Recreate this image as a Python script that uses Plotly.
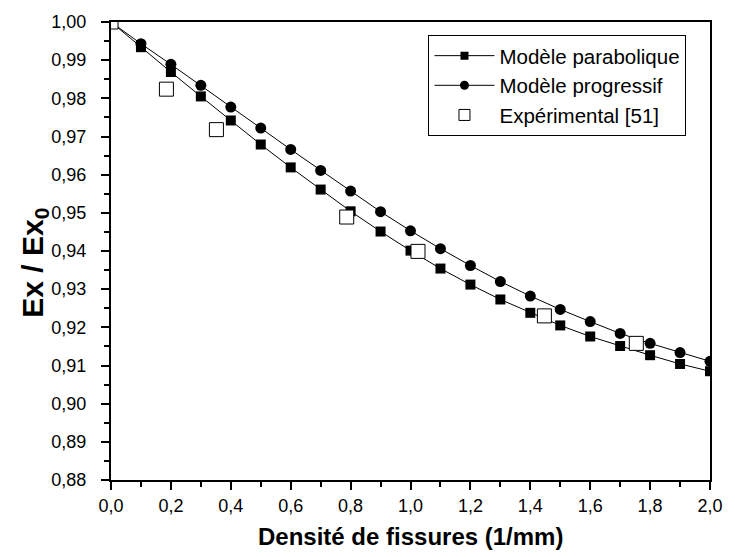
import plotly.graph_objects as go

# Crack density (1/mm)
density = [0.0, 0.1, 0.2, 0.3, 0.4, 0.5, 0.6, 0.7, 0.8, 0.9, 1.0,
           1.1, 1.2, 1.3, 1.4, 1.5, 1.6, 1.7, 1.8, 1.9, 2.0]

# Normalised longitudinal modulus Ex / Ex0
parabolic = [1.0, 0.9934, 0.9869, 0.9805, 0.9742, 0.9679, 0.9619, 0.9561, 0.9504,
             0.9451, 0.9401, 0.9354, 0.9312, 0.9273, 0.9238, 0.9205, 0.9176,
             0.9151, 0.9127, 0.9104, 0.9085]
progressive = [1.0, 0.9943, 0.9889, 0.9834, 0.9777, 0.9722, 0.9666, 0.9611, 0.9557,
               0.9503, 0.9453, 0.9406, 0.9362, 0.9320, 0.9282, 0.9247, 0.9215,
               0.9184, 0.9158, 0.9134, 0.9111]

# Experimental measurements [51]
exp_density = [0.0, 0.185, 0.352, 0.787, 1.025, 1.447, 1.754]
exp_modulus = [1.0, 0.9824, 0.9718, 0.9489, 0.9399, 0.9230, 0.9158]

names = ["Modèle parabolique", "Modèle progressif", "Expérimental [51]"]

FONT = "Liberation Sans, Arial, sans-serif"
LINE = dict(color="black", width=1)
SQUARE = dict(symbol="square", color="black")
CIRCLE = dict(symbol="circle", color="black")
OPEN_SQUARE = dict(symbol="square", color="white", line=dict(color="black", width=1))

fig = go.Figure()
fig.add_trace(go.Scatter(x=density, y=parabolic, mode="lines+markers",
                         line=LINE, marker=dict(size=10, **SQUARE), showlegend=False))
fig.add_trace(go.Scatter(x=density, y=progressive, mode="lines+markers",
                         line=LINE, marker=dict(size=11, **CIRCLE), showlegend=False))
fig.add_trace(go.Scatter(x=exp_density, y=exp_modulus, mode="markers",
                         marker=dict(size=14, **OPEN_SQUARE), showlegend=False))

# Legend entries with smaller key symbols
fig.add_trace(go.Scatter(x=[None], y=[None], mode="lines+markers", name=names[0],
                         line=LINE, marker=dict(size=8, **SQUARE)))
fig.add_trace(go.Scatter(x=[None], y=[None], mode="lines+markers", name=names[1],
                         line=LINE, marker=dict(size=9, **CIRCLE)))
fig.add_trace(go.Scatter(x=[None], y=[None], mode="markers", name=names[2],
                         marker=dict(size=11, **OPEN_SQUARE)))

axis_common = dict(
    showgrid=False, zeroline=False, showline=True, mirror=True,
    linecolor="black", linewidth=2,
    ticks="outside", ticklen=8, tickwidth=2, tickcolor="black",
    tickfont=dict(family=FONT, size=18, color="black"),
)

fig.update_xaxes(
    range=[0, 2.0], dtick=0.2, tick0=0, tickformat=".1f",
    minor=dict(ticks="outside", ticklen=5, tickwidth=2, tickcolor="black", dtick=0.1),
    ticklabelstandoff=0,
    **axis_common,
)
fig.update_yaxes(
    range=[0.88, 1.0], dtick=0.01, tick0=0.88, tickformat=".2f",
    minor=dict(ticks="outside", ticklen=5, tickwidth=2, tickcolor="black", dtick=0.005),
    ticklabelstandoff=11,
    **axis_common,
)

fig.add_annotation(
    text="<b>Densité de fissures (1/mm)</b>", xref="paper", yref="paper",
    x=0.5, y=-0.123, xanchor="center", yanchor="middle", showarrow=False,
    font=dict(family=FONT, size=24, color="black"),
)
fig.add_annotation(
    text="<b>Ex / Ex<sub>0</sub></b>", xref="paper", yref="paper",
    x=-0.128, y=0.475, xanchor="center", yanchor="middle", showarrow=False,
    textangle=-90, font=dict(family=FONT, size=30, color="black"),
)

fig.update_layout(
    width=735, height=557,
    margin=dict(l=111, r=15, t=17, b=77),
    paper_bgcolor="white", plot_bgcolor="white",
    separators=", ",
    font=dict(family=FONT, color="black"),
    legend=dict(
        x=0.53, y=0.972, xanchor="left", yanchor="top",
        bgcolor="white", bordercolor="black", borderwidth=1,
        font=dict(family=FONT, size=20.5, color="black"),
        itemwidth=60,
    ),
    showlegend=True,
)

fig.write_html("out.html")
